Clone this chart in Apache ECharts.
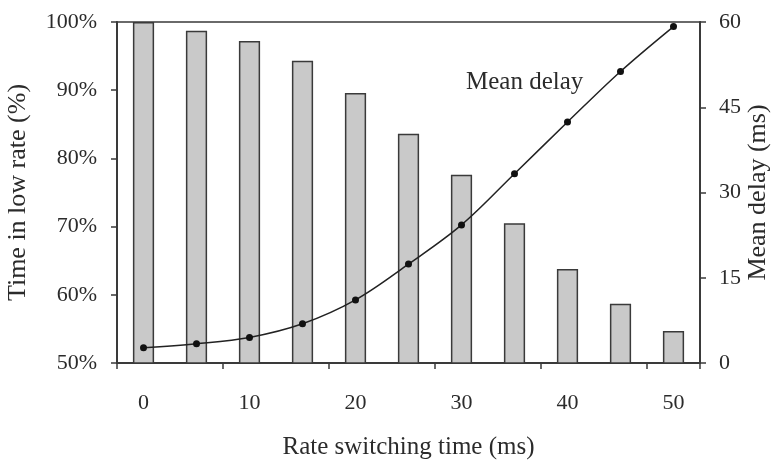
<!DOCTYPE html>
<html>
<head>
<meta charset="utf-8">
<script src="https://cdn.jsdelivr.net/npm/echarts@6/dist/echarts.min.js"></script>
<style>html,body{margin:0;padding:0;background:#fff}#c{width:773px;height:462px}</style>
</head>
<body>
<div id="c"></div>
<script>
const categories = ['0','5','10','15','20','25','30','35','40','45','50'];
const lowRateTime = [100, 98.7, 97.2, 94.3, 89.6, 83.6, 77.6, 70.5, 63.8, 58.7, 54.7];
const meanDelay = [2.7, 3.4, 4.5, 6.9, 11.1, 17.4, 24.3, 33.3, 42.4, 51.3, 59.2];
const leftTicks = [50, 60, 70, 80, 90, 100];
const rightTicks = [0, 15, 30, 45, 60];

const FONT = 'Liberation Serif';
const TXT = '#2b2b2b';
const AX = '#3a3a3a';

const chart = echarts.init(document.getElementById('c'), null, {renderer: 'canvas'});
chart.setOption({
  animation: false,
  backgroundColor: '#fff',
  textStyle: {fontFamily: FONT, color: TXT},
  grid: {left: 117, right: 73, top: 22, bottom: 99, containLabel: false, outerBoundsMode: 'none', show: true, borderColor: AX, borderWidth: 1.5, backgroundColor: 'transparent'},
  xAxis: {
    type: 'category',
    data: categories,
    boundaryGap: true,
    name: 'Rate switching time (ms)',
    nameLocation: 'middle',
    nameGap: 72,
    nameMoveOverlap: false,
    nameTextStyle: {fontFamily: FONT, fontSize: 25, color: TXT},
    axisLine: {lineStyle: {color: AX, width: 2}},
    axisTick: {show: true, interval: 1, length: 6, lineStyle: {color: AX, width: 1.5}},
    axisLabel: {interval: 1, margin: 29, fontFamily: FONT, fontSize: 22, color: TXT},
    splitLine: {show: false}
  },
  yAxis: [{
    type: 'value',
    min: leftTicks[0],
    max: leftTicks[leftTicks.length - 1],
    interval: 10,
    position: 'left',
    name: 'Time in low rate (%)',
    nameLocation: 'middle',
    nameRotate: 90,
    nameGap: 86,
    nameMoveOverlap: false,
    nameTextStyle: {fontFamily: FONT, fontSize: 26, color: TXT},
    axisLine: {show: true, lineStyle: {color: AX, width: 2}},
    axisTick: {show: true, length: 6, lineStyle: {color: AX, width: 1.5}},
    axisLabel: {margin: 20, fontFamily: FONT, fontSize: 22, color: TXT, formatter: v => v + '%'},
    splitLine: {show: false}
  }, {
    type: 'value',
    min: rightTicks[0],
    max: rightTicks[rightTicks.length - 1],
    interval: 15,
    position: 'right',
    name: 'Mean delay (ms)',
    nameLocation: 'middle',
    nameRotate: 90,
    nameGap: 45,
    nameMoveOverlap: false,
    nameTextStyle: {fontFamily: FONT, fontSize: 26, color: TXT},
    axisLine: {show: true, lineStyle: {color: AX, width: 2}},
    axisTick: {show: true, length: 6, lineStyle: {color: AX, width: 1.5}},
    axisLabel: {margin: 19, fontFamily: FONT, fontSize: 22, color: TXT},
    splitLine: {show: false}
  }],
  series: [{
    type: 'bar',
    yAxisIndex: 0,
    data: lowRateTime,
    barWidth: '40%',
    itemStyle: {color: '#c9c9c9', borderColor: '#3a3a3a', borderWidth: 1.5},
    z: 2
  }, {
    type: 'line',
    yAxisIndex: 1,
    data: meanDelay,
    smooth: 0.35,
    symbol: 'circle',
    symbolSize: 7,
    lineStyle: {color: '#222', width: 1.5},
    itemStyle: {color: '#111'},
    z: 3
  }],
  graphic: [{
    type: 'text',
    left: 466,
    top: 70,
    style: {text: 'Mean delay', fontFamily: FONT, fontSize: 25, fill: TXT}
  }]
});
</script>
</body>
</html>
